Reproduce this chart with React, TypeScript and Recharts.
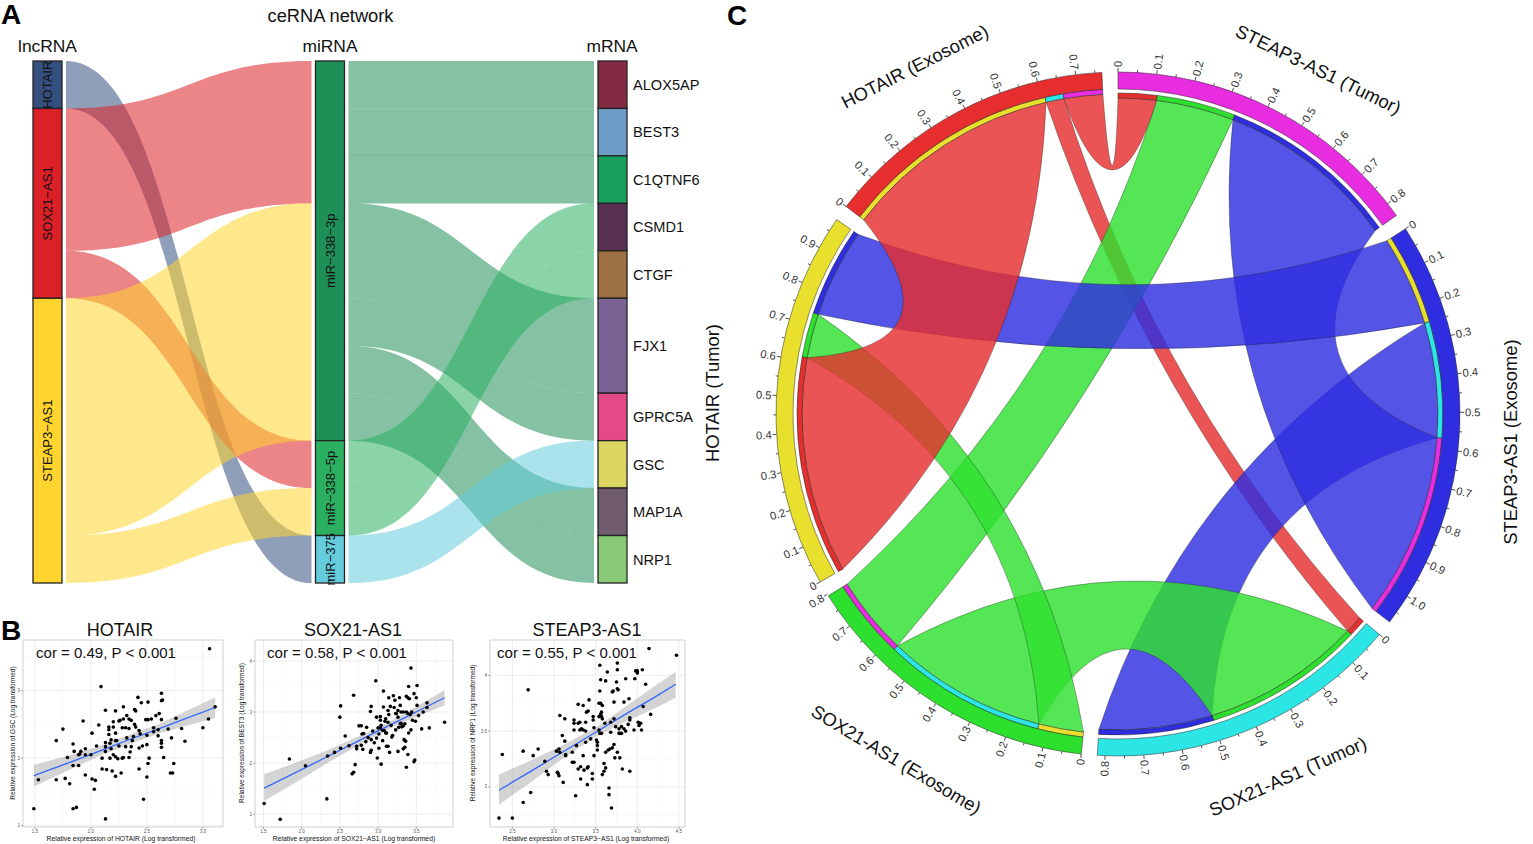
import React from 'react';
import {
  Sankey, ComposedChart, Scatter, Line, Area, XAxis, YAxis, CartesianGrid,
  ReferenceArea, PieChart, Pie, Cell,
} from 'recharts';

const FONT = '"Liberation Sans", Arial, sans-serif';

// ---------- panel A data ----------
const nodeNames = [
  'HOTAIR', 'SOX21−AS1', 'STEAP3−AS1',
  'miR−338−3p', 'miR−338−5p', 'miR−375',
  'ALOX5AP', 'BEST3', 'C1QTNF6', 'CSMD1', 'CTGF', 'FJX1', 'GPRC5A', 'GSC', 'MAP1A', 'NRP1',
];
const linkSource = [0, 1, 1, 2, 2, 3, 3, 3, 3, 3, 3, 3, 4, 4, 5];
const linkTarget = [5, 3, 4, 3, 4, 6, 7, 8, 11, 12, 14, 15, 9, 10, 13];
const linkValue = [1, 3, 1, 5, 1, 1, 1, 1, 2, 1, 1, 1, 1, 1, 1];
const nodeColors = [
  '#35507f', '#dc2027', '#ffd42e',
  '#1f8f58', '#2bb062', '#64ccdc',
  '#822b42', '#6e9dc8', '#18a05c', '#572f52', '#9c7040', '#7a6496', '#e54a86', '#dbd662', '#705a6e', '#88c978',
];

// ---------- panel B data ----------
const hotairPoints: [number, number][] = [
  [1.49, 1.25], [1.53, 1.68], [1.69, 1.68], [1.69, 2.26], [1.75, 2.43], [1.77, 1.7], [1.79, 2.01], [1.81, 1.62],
  [1.84, 2.21], [1.84, 1.89], [1.84, 1.25], [1.87, 1.27], [1.85, 2.1], [1.89, 1.89], [1.89, 2.05], [1.91, 2.1],
  [1.9, 2.06], [1.93, 2.55], [1.95, 2.14], [1.95, 2.05], [1.95, 1.75], [2.0, 2.05], [2.01, 1.69], [2.01, 2.37],
  [2.03, 1.54], [2.04, 1.67], [2.05, 2.18], [2.07, 2.49], [2.09, 3.06], [2.1, 2.0], [2.1, 1.84], [2.13, 2.71],
  [2.13, 2.23], [2.13, 2.17], [2.13, 2.1], [2.14, 1.83], [2.13, 1.1], [2.16, 2.46], [2.16, 2.42], [2.16, 2.35],
  [2.17, 2.0], [2.17, 2.22], [2.18, 2.27], [2.18, 2.14], [2.19, 1.81], [2.2, 2.05], [2.2, 2.46], [2.2, 2.54],
  [2.22, 2.26], [2.22, 2.37], [2.22, 2.7], [2.22, 2.02], [2.22, 1.73], [2.23, 2.26], [2.24, 1.99], [2.25, 2.55],
  [2.26, 2.56], [2.25, 2.18], [2.27, 1.78], [2.28, 2.0], [2.28, 2.45], [2.29, 2.76], [2.29, 2.58], [2.29, 2.01],
  [2.31, 2.17], [2.31, 2.45], [2.32, 2.3], [2.32, 2.63], [2.34, 2.58], [2.34, 2.44], [2.36, 2.17], [2.36, 2.56],
  [2.37, 2.26], [2.35, 2.09], [2.34, 2.01], [2.38, 2.32], [2.39, 2.5], [2.39, 2.72], [2.4, 2.7], [2.4, 2.46],
  [2.42, 2.9], [2.43, 2.15], [2.43, 1.84], [2.45, 2.82], [2.43, 2.41], [2.44, 2.36], [2.46, 2.18], [2.47, 1.39],
  [2.5, 2.34], [2.51, 2.83], [2.49, 2.57], [2.51, 2.57], [2.5, 2.2], [2.52, 2.0], [2.51, 1.92], [2.5, 1.72],
  [2.54, 2.58], [2.56, 2.45], [2.56, 2.39], [2.58, 2.63], [2.6, 2.33], [2.6, 2.42], [2.61, 2.66], [2.63, 2.57],
  [2.63, 2.96], [2.63, 2.85], [2.64, 2.86], [2.63, 2.26], [2.63, 2.22], [2.63, 2.16], [2.65, 2.01], [2.69, 2.43],
  [2.72, 2.3], [2.71, 1.78], [2.73, 1.78], [2.74, 1.92], [2.76, 2.59], [2.81, 2.44], [2.84, 2.25], [3.0, 2.45],
  [3.05, 2.58], [3.06, 3.62], [3.11, 2.76],
];
const hotairFitX = [1.49, 1.8, 2.1, 2.35, 2.6, 2.85, 3.11];
const hotairFitY = [1.74, 1.93, 2.12, 2.28, 2.43, 2.59, 2.75];
const hotairLow = [1.58, 1.82, 2.05, 2.21, 2.36, 2.48, 2.59];
const hotairHigh = [1.9, 2.04, 2.19, 2.35, 2.5, 2.7, 2.9];

const soxPoints: [number, number][] = [
  [1.51, 1.21], [1.72, 0.9], [1.84, 2.08], [2.05, 1.95], [2.33, 1.3], [2.34, 2.14], [2.43, 2.21], [2.51, 2.29],
  [2.5, 2.9], [2.51, 3.12], [2.57, 2.53], [2.62, 2.34], [2.68, 3.33], [2.66, 1.79], [2.68, 1.82], [2.7, 1.97],
  [2.72, 2.33], [2.72, 2.28], [2.75, 2.73], [2.78, 2.73], [2.78, 2.35], [2.79, 2.57], [2.81, 2.58], [2.8, 2.27],
  [2.84, 2.42], [2.85, 2.7], [2.87, 2.5], [2.9, 3.01], [2.91, 3.11], [2.91, 2.25], [2.9, 2.21], [2.91, 2.46],
  [2.93, 2.63], [2.95, 2.4], [2.97, 3.61], [2.99, 2.1], [2.98, 2.9], [3.0, 2.69], [3.01, 2.57], [3.01, 2.29],
  [2.98, 2.49], [3.03, 2.91], [3.03, 2.84], [3.04, 1.98], [3.04, 2.74], [3.06, 2.44], [3.07, 3.41], [3.07, 3.1],
  [3.08, 2.64], [3.09, 2.82], [3.1, 2.87], [3.11, 2.59], [3.11, 2.33], [3.13, 2.33], [3.13, 2.8], [3.14, 3.28],
  [3.14, 2.95], [3.15, 2.21], [3.16, 3.11], [3.17, 2.74], [3.18, 2.51], [3.19, 2.54], [3.2, 3.32], [3.21, 3.09],
  [3.22, 3.23], [3.23, 2.97], [3.23, 2.65], [3.24, 2.97], [3.26, 2.23], [3.26, 2.9], [3.27, 2.7], [3.28, 3.28],
  [3.29, 3.13], [3.3, 2.78], [3.31, 2.71], [3.33, 3.0], [3.33, 2.28], [3.33, 2.73], [3.34, 2.46], [3.35, 2.31],
  [3.36, 2.43], [3.37, 1.92], [3.37, 3.31], [3.39, 3.28], [3.39, 2.17], [3.4, 3.5], [3.4, 2.59], [3.41, 3.26],
  [3.43, 3.86], [3.42, 2.95], [3.43, 2.65], [3.44, 3.0], [3.45, 2.84], [3.47, 3.36], [3.47, 2.03], [3.48, 2.06],
  [3.49, 2.82], [3.5, 3.28], [3.51, 3.52], [3.51, 3.13], [3.53, 2.93], [3.57, 2.67], [3.59, 3.0], [3.64, 3.18],
  [3.64, 3.09], [3.67, 2.69], [3.87, 2.8], [3.03, 2.69], [3.06, 2.64], [3.1, 2.59], [3.13, 3.03], [3.26, 3.03],
  [3.3, 3.0], [3.37, 3.0], [3.39, 2.97], [3.29, 2.77], [3.35, 2.77],
];
const soxFitX = [1.51, 1.9, 2.3, 2.7, 3.0, 3.3, 3.6, 3.87];
const soxFitY = [1.51, 1.8, 2.1, 2.4, 2.63, 2.85, 3.08, 3.28];
const soxLow = [1.26, 1.6, 1.97, 2.31, 2.56, 2.78, 2.97, 3.13];
const soxHigh = [1.78, 2.0, 2.23, 2.49, 2.7, 2.93, 3.19, 3.43];

const steapPoints: [number, number][] = [
  [2.34, 2.72], [2.5, 2.72], [2.38, 3.29], [2.63, 3.32], [2.63, 2.86], [2.69, 3.87], [2.72, 2.95], [2.75, 3.28],
  [2.81, 3.34], [2.89, 3.23], [2.91, 3.14], [2.93, 3.11], [3.03, 3.32], [3.04, 3.13], [3.05, 3.12], [3.06, 3.1],
  [3.06, 3.34], [3.07, 3.64], [3.07, 3.31], [3.1, 3.46], [3.11, 3.04], [3.13, 3.61], [3.13, 3.41], [3.14, 3.29],
  [3.14, 3.28], [3.22, 3.31], [3.22, 3.22], [3.24, 3.22], [3.24, 3.6], [3.24, 3.57], [3.24, 3.51], [3.26, 2.92],
  [3.27, 3.37], [3.29, 3.74], [3.29, 3.57], [3.29, 3.16], [3.31, 3.58], [3.31, 3.51], [3.32, 3.07], [3.32, 3.18],
  [3.33, 3.52], [3.35, 3.73], [3.35, 3.51], [3.35, 3.28], [3.36, 3.15], [3.38, 3.58], [3.38, 3.5], [3.38, 3.4],
  [3.39, 3.67], [3.4, 3.17], [3.4, 3.02], [3.41, 3.68], [3.41, 3.18], [3.42, 3.78], [3.44, 3.43], [3.46, 3.07],
  [3.46, 3.12], [3.47, 3.63], [3.47, 3.6], [3.48, 3.53], [3.48, 3.28], [3.51, 3.42], [3.52, 3.4], [3.52, 3.37],
  [3.52, 3.33], [3.54, 3.75], [3.54, 3.51], [3.54, 3.63], [3.55, 4.09], [3.55, 3.86], [3.56, 3.96], [3.56, 3.75],
  [3.55, 3.48], [3.56, 3.65], [3.57, 3.67], [3.57, 3.63], [3.57, 3.48], [3.58, 3.61], [3.58, 3.11], [3.58, 3.73],
  [3.6, 3.21], [3.6, 3.14], [3.61, 3.57], [3.62, 3.95], [3.62, 3.31], [3.62, 3.17], [3.64, 4.03], [3.65, 3.33],
  [3.66, 2.99], [3.66, 2.93], [3.67, 3.34], [3.68, 3.58], [3.68, 3.49], [3.69, 2.81], [3.7, 3.85], [3.7, 3.35],
  [3.71, 3.86], [3.72, 3.38], [3.72, 3.61], [3.72, 3.76], [3.73, 3.26], [3.74, 3.54], [3.75, 3.94], [3.76, 4.11],
  [3.76, 4.05], [3.76, 3.88], [3.77, 3.87], [3.76, 3.31], [3.78, 3.52], [3.78, 3.48], [3.79, 3.26], [3.79, 3.48],
  [3.81, 3.48], [3.81, 3.54], [3.82, 3.16], [3.84, 3.76], [3.84, 3.52], [3.86, 3.5], [3.86, 3.97], [3.89, 3.56],
  [3.9, 3.79], [3.91, 3.6], [3.91, 3.14], [3.91, 3.62], [3.96, 3.51], [3.97, 3.97], [3.98, 4.04], [4.0, 4.04],
  [4.0, 4.02], [4.01, 3.58], [4.02, 3.55], [4.04, 3.57], [4.05, 3.51], [4.06, 4.05], [4.07, 3.72], [4.1, 3.92],
  [4.14, 4.24], [4.16, 3.65], [4.47, 4.18],
];
const steapFitX = [2.34, 2.7, 3.1, 3.5, 3.9, 4.2, 4.46];
const steapFitY = [2.97, 3.13, 3.31, 3.49, 3.67, 3.8, 3.92];
const steapLow = [2.84, 3.03, 3.25, 3.45, 3.6, 3.7, 3.8];
const steapHigh = [3.11, 3.23, 3.37, 3.53, 3.74, 3.9, 4.03];

// ---------- panel C data ----------
const sectorNames = ['STEAP3-AS1 (Tumor)', 'STEAP3-AS1 (Exosome)', 'SOX21-AS1 (Tumor)', 'SOX21-AS1 (Exosome)', 'HOTAIR (Tumor)', 'HOTAIR (Exosome)'];
const sectorColors = ['#e82ce0', '#2e2ee0', '#2ce6e6', '#2ee02e', '#e8e02c', '#e62e2e'];
// exosome sector -> tumor sector
const exoSectors = [5, 3, 1];
const tumorSectors = [4, 2, 0];
const hotairExoLinks = [0.61, 0.05, 0.108];
const soxExoLinks = [0.125, 0.45, 0.22];
const steapExoLinks = [0.25, 0.32, 0.51];
const linkMatrix = [hotairExoLinks, soxExoLinks, steapExoLinks];
// [exo row, tumor column], bottom to top
const ribbonOrder = [[0, 1], [1, 2], [2, 1], [2, 2], [2, 0], [1, 1], [1, 0], [0, 0], [0, 2]];
const GAP = 0.0416;

const CX = 418;
const CY = 414;
const R_OUT = 342;
const R_IN = 325;
const R_EXO = 320;
const R_TUMOR_OUT = 321;
const R_TUMOR = 316;

const sum = (a: number[]) => a.reduce((s, v) => s + v, 0);
const sectorSizes = sectorNames.map((_, i) => {
  const e = exoSectors.indexOf(i);
  if (e >= 0) return sum(linkMatrix[e]);
  const t = tumorSectors.indexOf(i);
  return sum(linkMatrix.map((r) => r[t]));
});
const total = sum(sectorSizes) + GAP * sectorSizes.length;
const DEG = 360 / total;
const sectorStart = sectorSizes.map((_, i) => sum(sectorSizes.slice(0, i)) + GAP * i);

const angleOf = (sector: number, v: number) => (sectorStart[sector] + v) * DEG;
const pt = (r: number, deg: number) => {
  const a = (deg * Math.PI) / 180;
  return [CX + r * Math.sin(a), CY - r * Math.cos(a)];
};
const fmt = (p: number[]) => `${p[0].toFixed(2)} ${p[1].toFixed(2)}`;

// offset of each link inside its sector
const exoOffset = (e: number, t: number) => sum(linkMatrix[e].slice(0, t));
const tumorOffset = (e: number, t: number) => sum(linkMatrix.slice(0, e).map((r) => r[t]));

// control point of a ribbon edge, closer to the centre the further apart its ends are
function ctrl(a: number, b: number) {
  let d = ((b - a) % 360 + 360) % 360;
  if (d > 180) d -= 360;
  const x = Math.abs(d) / 180;
  return pt(180 * (1 - Math.pow(x, 1.4)) * (1 - 0.9 * Math.pow(x, 6)), a + d / 2);
}

function ribbonPath(e: number, t: number) {
  const v = linkMatrix[e][t];
  const a0 = angleOf(exoSectors[e], exoOffset(e, t));
  const a1 = angleOf(exoSectors[e], exoOffset(e, t) + v);
  const b0 = angleOf(tumorSectors[t], tumorOffset(e, t));
  const b1 = angleOf(tumorSectors[t], tumorOffset(e, t) + v);
  return [
    `M ${fmt(pt(R_EXO, a0))}`,
    `A ${R_EXO} ${R_EXO} 0 0 1 ${fmt(pt(R_EXO, a1))}`,
    `Q ${fmt(ctrl(a1, b0))} ${fmt(pt(R_TUMOR, b0))}`,
    `A ${R_TUMOR} ${R_TUMOR} 0 0 1 ${fmt(pt(R_TUMOR, b1))}`,
    `Q ${fmt(ctrl(b1, a0))} ${fmt(pt(R_EXO, a0))}`,
    'Z',
  ].join(' ');
}

// pie tables: sector entries with a blank entry after each one for the gap
const ringData = sectorSizes.flatMap((v, i) => [
  { value: v, color: sectorColors[i] },
  { value: GAP, color: 'none' },
]);
const exoTrackData = sectorSizes.flatMap((v, i) => {
  const e = exoSectors.indexOf(i);
  const parts = e >= 0
    ? linkMatrix[e].map((x, t) => ({ value: x, color: sectorColors[tumorSectors[t]] }))
    : [{ value: v, color: 'none' }];
  return [...parts, { value: GAP, color: 'none' }];
});
const tumorTrackData = sectorSizes.flatMap((v, i) => {
  const t = tumorSectors.indexOf(i);
  const parts = t >= 0
    ? linkMatrix.map((r, e) => ({ value: r[t], color: sectorColors[exoSectors[e]] }))
    : [{ value: v, color: 'none' }];
  return [...parts, { value: GAP, color: 'none' }];
});

const sectorTitles = [
  { i: 0, x: 1318, y: 70, rot: 26 },
  { i: 1, x: 1510.6, y: 442, rot: -90 },
  { i: 2, x: 1288, y: 777, rot: -24 },
  { i: 3, x: 896, y: 760, rot: 31 },
  { i: 4, x: 713, y: 393, rot: -90 },
  { i: 5, x: 915, y: 67, rot: -27 },
];

function Txt({ x, y, size, rot = 0, bold = false, color = '#111', children }: any) {
  return (
    <div
      style={{
        position: 'absolute', left: x, top: y, fontFamily: FONT, fontSize: size, color,
        fontWeight: bold ? 700 : 400, whiteSpace: 'nowrap', lineHeight: 1,
        transform: `translate(-50%, -50%) rotate(${rot}deg)`,
      }}
    >
      {children}
    </div>
  );
}

function AlluvialNode(props: any) {
  const { x, y, width, height, index } = props;
  const gene = index >= 6;
  return (
    <g>
      <rect x={x} y={y} width={width} height={height} fill={nodeColors[index]} stroke="#222" strokeWidth={1.3} />
      {gene ? (
        <text x={x + width + 6} y={y + height / 2} dy="0.36em" fontFamily={FONT} fontSize={14.6} fill="#111">
          {nodeNames[index]}
        </text>
      ) : (
        <text
          transform={`translate(${x + width / 2}, ${y + height / 2}) rotate(-90)`}
          dy="0.36em" textAnchor="middle" fontFamily={FONT} fontSize={13} fill="#111"
        >
          {nodeNames[index]}
        </text>
      )}
    </g>
  );
}

function AlluvialLink(props: any) {
  const { sourceX, targetX, sourceY, targetY, sourceControlX, targetControlX, linkWidth, index } = props;
  const sx = sourceX + 4;
  const tx = targetX - 4;
  const h = linkWidth / 2 + 0.05; // softens the seam between neighbouring flows
  const d = `M ${sx} ${sourceY - h} C ${sourceControlX} ${sourceY - h}, ${targetControlX} ${targetY - h}, ${tx} ${targetY - h}
    L ${tx} ${targetY + h} C ${targetControlX} ${targetY + h}, ${sourceControlX} ${sourceY + h}, ${sx} ${sourceY + h} Z`;
  return <path d={d} fill={nodeColors[linkSource[index]]} fillOpacity={0.55} stroke="none" />;
}

function ScatterPanel({ left, plotW, points, fitX, fitY, low, high, xDomain, yDomain, xTicks, yTicks, xMinor, yMinor }: any) {
  const band = fitX.map((x: number, i: number) => ({ x, fit: fitY[i], range: [low[i], high[i]] }));
  const pts = points.map((p: number[]) => ({ x: p[0], y: p[1] }));
  return (
    <div style={{ position: 'absolute', left: left - 22, top: 638 }}>
      <ComposedChart
        width={plotW + 25} height={206} data={band}
        margin={{ top: 2, right: 3, bottom: 3, left: 12 }}
      >
        <CartesianGrid stroke="#f3f3f3" strokeWidth={0.5} verticalValues={xMinor} horizontalValues={yMinor} />
        <CartesianGrid stroke="#e6e6e6" strokeWidth={0.7} verticalValues={xTicks} horizontalValues={yTicks} />
        <XAxis
          dataKey="x" type="number" domain={xDomain} ticks={xTicks} height={14} allowDataOverflow
          axisLine={false} tickSize={2} tickLine={{ stroke: '#555', strokeWidth: 0.5 }}
          tick={{ fontSize: 4.5, fill: '#555', fontFamily: FONT }} tickMargin={1} interval={0}
          tickFormatter={(v: number) => v.toFixed(1)}
        />
        <YAxis
          type="number" domain={yDomain} ticks={yTicks} width={10} allowDataOverflow
          axisLine={false} tickSize={2} tickLine={{ stroke: '#555', strokeWidth: 0.5 }}
          tick={{ fontSize: 4.5, fill: '#555', fontFamily: FONT }} tickMargin={1} interval={0}
        />
        <Scatter
          data={pts} dataKey="y" isAnimationActive={false}
          shape={(p: any) => <circle cx={p.cx} cy={p.cy} r={1.8} fill="#000" />}
        />
        <Area dataKey="range" type="linear" fill="#999" fillOpacity={0.42} stroke="none" dot={false} isAnimationActive={false} />
        <Line dataKey="fit" type="linear" stroke="#3366ff" strokeWidth={1.3} dot={false} isAnimationActive={false} />
        <ReferenceArea x1={xDomain[0]} x2={xDomain[1]} y1={yDomain[0]} y2={yDomain[1]} fill="none" stroke="#c4c4c4" strokeWidth={0.8} />
      </ComposedChart>
    </div>
  );
}

function ChordTicks() {
  const items: any[] = [];
  sectorSizes.forEach((size, s) => {
    const n = Math.floor(size * 20 + 0.15);
    for (let i = 0; i <= n; i++) {
      const v = i / 20;
      const a = angleOf(s, v);
      const major = i % 2 === 0;
      items.push(
        <line
          key={`${s}-${i}`} x1={pt(R_OUT, a)[0]} y1={pt(R_OUT, a)[1]}
          x2={pt(R_OUT + (major ? 4 : 2.5), a)[0]} y2={pt(R_OUT + (major ? 4 : 2.5), a)[1]}
          stroke="#222" strokeWidth={0.8}
        />
      );
      if (major) {
        const p = pt(R_OUT + 5, a);
        const right = a < 180;
        items.push(
          <text
            key={`l${s}-${i}`} transform={`translate(${p[0]}, ${p[1]}) rotate(${right ? a - 90 : a + 90})`}
            dy="0.36em" textAnchor={right ? 'start' : 'end'} fontFamily={FONT} fontSize={11.2} fill="#333"
          >
            {i === 0 ? '0' : v.toFixed(1)}
          </text>
        );
      }
    }
  });
  return <g>{items}</g>;
}

function ChordRing({ data, inner, outer }: any) {
  return (
    <Pie
      data={data} dataKey="value" cx={CX} cy={CY} innerRadius={inner} outerRadius={outer}
      startAngle={90} endAngle={-270} paddingAngle={0} isAnimationActive={false}
    >
      {data.map((d: any, i: number) => (
        <Cell key={i} fill={d.color} stroke={d.color === 'none' ? 'none' : '#222'} strokeWidth={0.5} />
      ))}
    </Pie>
  );
}

export default function App() {
  return (
    <div style={{ position: 'absolute', left: 0, top: 0, width: 1533, height: 844, background: '#fff', overflow: 'hidden' }}>
      {/* A */}
      <Txt x={11} y={15} size={28} bold color="#000">A</Txt>
      <Txt x={330.5} y={16} size={18.3}>ceRNA network</Txt>
      <Txt x={47.5} y={47} size={17.4}>lncRNA</Txt>
      <Txt x={330} y={47} size={17.4}>miRNA</Txt>
      <Txt x={612} y={47} size={17.4}>mRNA</Txt>
      <div style={{ position: 'absolute', left: 23, top: 51 }}>
        <Sankey
          width={704} height={542}
          data={{
            nodes: nodeNames.map((name) => ({ name })),
            links: linkSource.map((s, i) => ({ source: s, target: linkTarget[i], value: linkValue[i] })),
          }}
          margin={{ top: 10, right: 100, bottom: 10, left: 10 }}
          nodeWidth={29} nodePadding={0} iterations={0}
          node={AlluvialNode as any} link={AlluvialLink as any}
        />
      </div>

      {/* B */}
      <Txt x={11} y={631} size={28} bold color="#000">B</Txt>
      <Txt x={120} y={630} size={18}>HOTAIR</Txt>
      <Txt x={353} y={630} size={18}>SOX21-AS1</Txt>
      <Txt x={587} y={630} size={18}>STEAP3-AS1</Txt>

      <ScatterPanel
        left={23} plotW={200} points={hotairPoints} fitX={hotairFitX} fitY={hotairFitY} low={hotairLow} high={hotairHigh}
        xDomain={[1.393, 3.18]} yDomain={[0.98, 3.75]} xTicks={[1.5, 2, 2.5, 3]} yTicks={[1, 2, 3]}
        xMinor={[1.75, 2.25, 2.75]} yMinor={[1.5, 2.5, 3.5]}
      />
      <ScatterPanel
        left={255} plotW={198} points={soxPoints} fitX={soxFitX} fitY={soxFitY} low={soxLow} high={soxHigh}
        xDomain={[1.39, 3.98]} yDomain={[0.75, 4.41]} xTicks={[1.5, 2, 2.5, 3, 3.5]} yTicks={[1, 2, 3, 4]}
        xMinor={[1.75, 2.25, 2.75, 3.25, 3.75]} yMinor={[1.5, 2.5, 3.5]}
      />
      <ScatterPanel
        left={490} plotW={195} points={steapPoints} fitX={steapFitX} fitY={steapFitY} low={steapLow} high={steapHigh}
        xDomain={[2.232, 4.572]} yDomain={[2.64, 4.317]} xTicks={[2.5, 3, 3.5, 4, 4.5]} yTicks={[3, 3.5, 4]}
        xMinor={[2.75, 3.25, 3.75, 4.25]} yMinor={[2.75, 3.25, 3.75, 4.25]}
      />

      <Txt x={106} y={652} size={15}>cor = 0.49, P &lt; 0.001</Txt>
      <Txt x={337} y={652} size={15}>cor = 0.58, P &lt; 0.001</Txt>
      <Txt x={567} y={652} size={15}>cor = 0.55, P &lt; 0.001</Txt>

      <Txt x={121} y={839} size={6.75}>Relative expression of HOTAIR (Log transformed)</Txt>
      <Txt x={354} y={839} size={6.75}>Relative expression of SOX21−AS1 (Log transformed)</Txt>
      <Txt x={586} y={839} size={6.75}>Relative expression of STEAP3−AS1 (Log transformed)</Txt>
      <Txt x={13} y={733} size={6.5} rot={-90}>Relative expression of GSC (Log transformed)</Txt>
      <Txt x={242} y={733} size={6.5} rot={-90}>Relative expression of BEST3 (Log transformed)</Txt>
      <Txt x={473} y={733} size={6.5} rot={-90}>Relative expression of NRP1 (Log transformed)</Txt>

      {/* C */}
      <Txt x={737} y={16} size={28} bold color="#000">C</Txt>
      <div style={{ position: 'absolute', left: 700, top: 0 }}>
        <PieChart width={833} height={844} margin={{ top: 0, right: 0, bottom: 0, left: 0 }}>
          <g>
            {ribbonOrder.map(([e, t]) => (
              <path
                key={`${e}-${t}`} d={ribbonPath(e, t)} fill={sectorColors[exoSectors[e]]} fillOpacity={0.82}
                stroke="#222" strokeWidth={0.5} strokeOpacity={0.7}
              />
            ))}
          </g>
          {ChordRing({ data: tumorTrackData, inner: R_TUMOR, outer: R_TUMOR_OUT })}
          {ChordRing({ data: exoTrackData, inner: R_EXO, outer: R_IN })}
          {ChordRing({ data: ringData, inner: R_IN, outer: R_OUT })}
          <ChordTicks />
        </PieChart>
      </div>
      {sectorTitles.map((t) => (
        <Txt key={t.i} x={t.x} y={t.y} size={18.4} rot={t.rot}>{sectorNames[t.i]}</Txt>
      ))}
    </div>
  );
}
